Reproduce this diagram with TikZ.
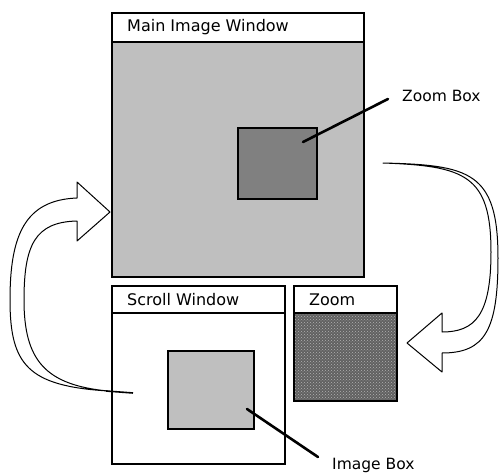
\documentclass[tikz,border=0pt]{standalone}
\usepackage{fontspec}
\setmainfont{DejaVu Sans}
\usetikzlibrary{patterns}
\begin{document}
\begin{tikzpicture}[x=1pt,y=-1pt,
  frame/.style={draw=black,line width=1.4pt},
  titletext/.style={anchor=west,font=\fontsize{16}{18}\selectfont,inner sep=0pt},
  labeltext/.style={anchor=west,font=\fontsize{15.5}{18}\selectfont,inner sep=0pt},
  leader/.style={line width=2.6pt,line cap=round},
  bigarrow/.style={draw=black,line width=1pt,fill=white,line join=round}]
\useasboundingbox (0,0) rectangle (499,474);

% Main image window
\fill[gray!50] (112,42) rectangle (364,277);
\draw[frame] (112,13) rectangle (364,277);
\draw[line width=2pt] (112,41.5) -- (364,41.5);
\node[titletext] (maintitle) at (127,27) {Main Image Window};
\node[frame,fill=black!50,minimum width=79pt,minimum height=71pt,inner sep=0pt,line width=1.2pt]
  (zoombox) at (277.5,163.5) {};
\node[labeltext] (zoomlbl) at (402,96) {Zoom Box};
\coordinate (zoomtip) at (303,142);
\coordinate (zoomend) at (388,99);
\draw[leader] (zoomtip) -- (zoomend);

% Scroll window
\draw[frame] (112,286) rectangle (285,464);
\draw[line width=2pt] (112,313) -- (285,313);
\node[titletext] (scrolltitle) at (127,299.5) {Scroll Window};
\node[frame,fill=gray!50,minimum width=86pt,minimum height=78pt,inner sep=0pt,line width=1.2pt]
  (imagebox) at (211,390) {};
\node[labeltext] (imagelbl) at (332,465) {Image Box};
\coordinate (imagetip) at (247,409);
\coordinate (imageend) at (318,457);
\draw[leader] (imagetip) -- (imageend);

% Zoom window with a fine checker fill
\fill[black!62] (294,313) rectangle (397,401);
\fill[pattern=crosshatch dots,pattern color=white!70!black] (294,313) rectangle (397,401);
\draw[frame] (294,286) rectangle (397,401);
\draw[line width=2pt] (294,313) -- (397,313);
\node[titletext] (zoomtitle) at (309,299.5) {Zoom};

% Curved arrow from the scroll window back up to the main window
\draw[bigarrow] (110,212) -- (77,182) -- (77,198)
  .. controls (25,200) and (10,235) .. (10,300)
  .. controls (10,365) and (28,386) .. (108,391)
  .. controls (45,385) and (24,360) .. (24,300)
  .. controls (24,245) and (35,222) .. (77,221)
  -- (77,241) -- cycle;
\coordinate (ltail) at (133,393);
\coordinate (lmeet) at (106,391);
\draw[line width=1.6pt] (lmeet) -- (ltail);

% Curved arrow from the main window down to the zoom window
\draw[bigarrow] (383,163)
  .. controls (470,165) and (498,172) .. (498,258)
  .. controls (498,330) and (485,353) .. (442,353)
  -- (442,372) -- (407,343) -- (442,313) -- (442,332)
  .. controls (475,332) and (491,315) .. (491,252)
  .. controls (491,175) and (465,166) .. (383,163) -- cycle;
\end{tikzpicture}
\end{document}
